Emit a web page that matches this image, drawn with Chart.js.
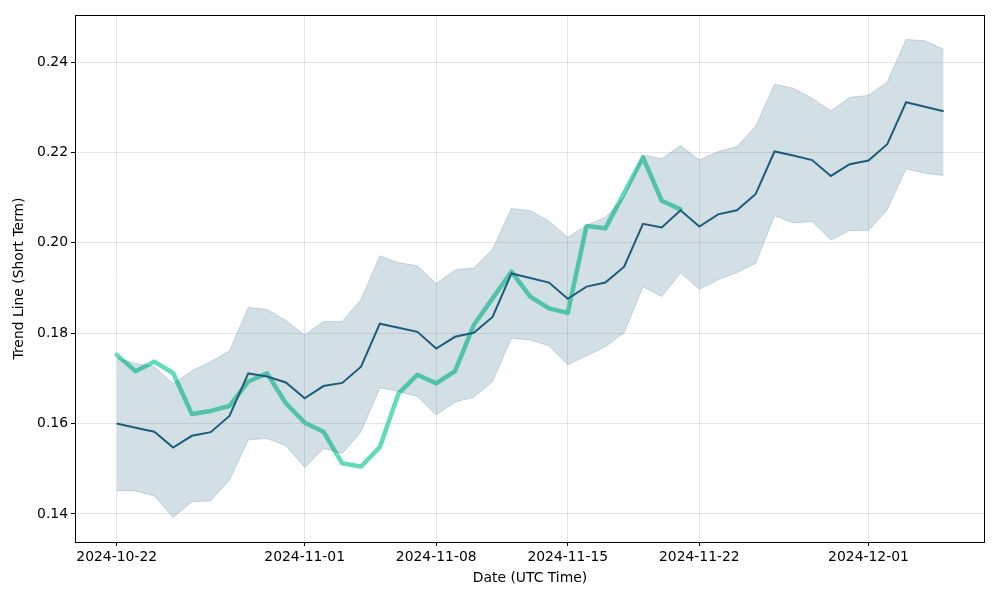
<!DOCTYPE html>
<html>
<head>
<meta charset="utf-8">
<script src="https://cdn.jsdelivr.net/npm/chart.js@4"></script>
<style>
html,body{margin:0;padding:0;background:#fff;}
canvas{display:block;}
</style>
</head>
<body>
<canvas id="c" width="1000" height="600"></canvas>
<script>
const startDate = '2024-10-22';
const dayOffsets = [0,1,2,3,4,5,6,7,8,9,10,11,12,13,14,15,16,17,18,19,20,21,22,23,24,25,26,27,28,29,30,31,32,33,34,35,36,37,38,39,40,41,42,43,44];
const trendMid = [0.1600,0.1591,0.1582,0.1547,0.1573,0.1581,0.1617,0.1711,0.1704,0.1691,0.1656,0.1683,0.1690,0.1726,0.1821,0.1812,0.1803,0.1766,0.1792,0.1801,0.1836,0.1932,0.1922,0.1912,0.1876,0.1903,0.1912,0.1947,0.2042,0.2034,0.2072,0.2036,0.2063,0.2072,0.2108,0.2202,0.2193,0.2183,0.2148,0.2174,0.2182,0.2218,0.2311,0.2301,0.2291];
const bandUpper = [0.1745,0.1733,0.1726,0.1688,0.1717,0.1737,0.1761,0.1857,0.1853,0.1828,0.1796,0.1826,0.1826,0.1875,0.1971,0.1956,0.1949,0.1910,0.1940,0.1944,0.1986,0.2076,0.2071,0.2048,0.2012,0.2039,0.2056,0.2102,0.2195,0.2186,0.2215,0.2183,0.2202,0.2213,0.2258,0.2351,0.2342,0.2320,0.2292,0.2322,0.2326,0.2356,0.2450,0.2447,0.2428];
const bandLower = [0.1452,0.1451,0.1440,0.1392,0.1427,0.1429,0.1475,0.1564,0.1567,0.1551,0.1503,0.1545,0.1534,0.1582,0.1679,0.1671,0.1660,0.1619,0.1648,0.1658,0.1693,0.1789,0.1785,0.1772,0.1730,0.1750,0.1770,0.1801,0.1903,0.1881,0.1933,0.1897,0.1918,0.1934,0.1955,0.2060,0.2044,0.2047,0.2006,0.2027,0.2027,0.2073,0.2164,0.2154,0.2149];
const priceLine = [0.1752,0.1716,0.1737,0.1712,0.1621,0.1628,0.1639,0.1693,0.1711,0.1645,0.1602,0.1582,0.1512,0.1505,0.1548,0.1667,0.1708,0.1689,0.1716,0.1818,0.1877,0.1936,0.1881,0.1855,0.1845,0.2037,0.2032,0.2110,0.2189,0.2093,0.2074];
const xTickDays = [0,10,17,24,31,40];
const xTickLabels = ['2024-10-22','2024-11-01','2024-11-08','2024-11-15','2024-11-22','2024-12-01'];
const yTicks = [0.14,0.16,0.18,0.20,0.22,0.24];

const toPts = (arr) => arr.map((v,i)=>({x:dayOffsets[i], y:v}));
const FONT = {family:'"DejaVu Sans", sans-serif', size:13.9};

const borderPlugin = {
  id:'frame',
  afterDraw(chart){
    const {ctx, chartArea:a} = chart;
    ctx.save();
    ctx.strokeStyle='#000';
    ctx.lineWidth=1;
    const l=Math.round(a.left), t=Math.round(a.top), r=Math.round(a.right), b=Math.round(a.bottom);
    ctx.strokeRect(l+0.5, t+0.5, r-l-1, b-t);
    ctx.restore();
  }
};

new Chart(document.getElementById('c'), {
  type:'line',
  data:{
    datasets:[
      {data:toPts(bandUpper), fill:'+1', backgroundColor:'rgba(31,95,127,0.2)', borderColor:'rgba(31,95,127,0.2)', borderWidth:1, pointRadius:0, tension:0},
      {data:toPts(bandLower), fill:false, borderColor:'rgba(31,95,127,0.2)', borderWidth:1, pointRadius:0, tension:0},
      {data:toPts(trendMid), fill:false, borderColor:'#1f5c7b', borderWidth:2, pointRadius:0, tension:0},
      {data:toPts(priceLine), fill:false, borderColor:'#60dcb7', borderWidth:4.5, pointRadius:0, tension:0, borderJoinStyle:'round', borderCapStyle:'round'}
    ]
  },
  options:{
    responsive:false,
    animation:false,
    devicePixelRatio:1,
    layout:{padding:{top:15,right:15,left:0,bottom:0}},
    plugins:{legend:{display:false}, tooltip:{enabled:false}},
    scales:{
      x:{
        type:'linear',
        min:-2.22, max:46.2,
        afterBuildTicks(s){ s.ticks = xTickDays.map(v=>({value:v})); },
        afterFit(s){ s.height = 58; },
        ticks:{color:'#000', font:FONT, padding:3, maxRotation:0, autoSkip:false,
          callback(v){ const i = xTickDays.indexOf(v); return i>=0 ? xTickLabels[i] : ''; }},
        grid:{color:'rgba(0,0,0,0.1)', tickColor:'#000', tickLength:4, lineWidth:1},
        border:{display:false},
        title:{display:true, text:'Date (UTC Time)', color:'#000', font:FONT, padding:{top:0,bottom:13.5}}
      },
      y:{
        min:0.1338, max:0.2504,
        afterBuildTicks(s){ s.ticks = yTicks.map(v=>({value:v})); },
        afterFit(s){ s.width = 75; },
        ticks:{color:'#000', font:FONT, padding:3, callback(v){ return v.toFixed(2); }},
        grid:{color:'rgba(0,0,0,0.1)', tickColor:'#000', tickLength:4, lineWidth:1},
        border:{display:false},
        title:{display:true, text:'Trend Line (Short Term)', color:'#000', font:FONT, padding:{top:11.5,bottom:0}}
      }
    }
  },
  plugins:[borderPlugin]
});
</script>
</body>
</html>
